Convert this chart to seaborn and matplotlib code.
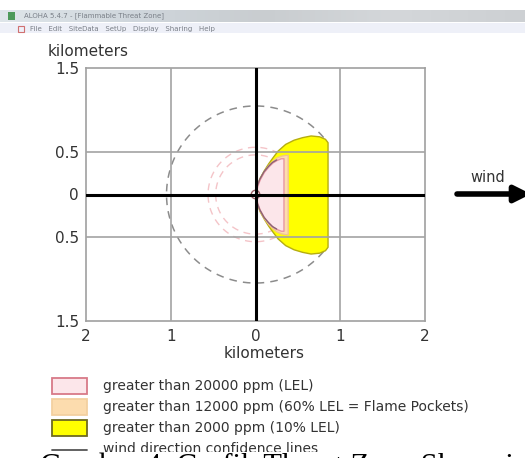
import numpy as np
import pandas as pd
import matplotlib
matplotlib.use("Agg")
import matplotlib.pyplot as plt
from matplotlib.patches import Rectangle
import seaborn as sns

# Threat zone footprints: downwind distance (km) and crosswind half-width (km)
lel_x = [0.00, 0.02, 0.05, 0.10, 0.15, 0.20, 0.25, 0.30, 0.33]
lel_w = [0.00, 0.10, 0.18, 0.27, 0.33, 0.38, 0.41, 0.43, 0.43]

pocket_x = [0.00, 0.02, 0.05, 0.10, 0.15, 0.20, 0.25, 0.30, 0.35, 0.38]
pocket_w = [0.00, 0.11, 0.19, 0.28, 0.35, 0.40, 0.44, 0.46, 0.47, 0.47]

tenlel_x = [0.00, 0.02, 0.05, 0.10, 0.15, 0.20, 0.26, 0.35, 0.45, 0.55, 0.65, 0.75, 0.82, 0.85]
tenlel_w = [0.00, 0.12, 0.20, 0.29, 0.37, 0.44, 0.52, 0.60, 0.65, 0.68, 0.70, 0.69, 0.66, 0.62]

# Wind direction confidence arc and inner zone confidence rings (km)
confidence_radius = 1.05
confidence_span_deg = (40, 320)
inner_ring_radii = [0.47, 0.56]
source_radius = 0.05

# Axis ticks
x_ticks = [-2, -1, 0, 1, 2]
x_tick_labels = ["2", "1", "0", "1", "2"]
y_ticks = [1.5, 0.5, 0, -0.5, -1.5]
y_tick_labels = ["1.5", "0.5", "0", "0.5", "1.5"]
grid_x = [-1, 1]
grid_y = [-0.5, 0.5]

legend_labels = [
    "greater than 20000 ppm (LEL)",
    "greater than 12000 ppm (60% LEL = Flame Pockets)",
    "greater than 2000 ppm (10% LEL)",
    "wind direction confidence lines",
]
window_title = "ALOHA 5.4.7 - [Flammable Threat Zone]"
menu_items = ["File", "Edit", "SiteData", "SetUp", "Display", "Sharing", "Help"]
caption = "Gambar 4. Grafik Threat Zone Skenario"

sns.set_theme(style="white")
plt.rcParams["font.family"] = ["DejaVu Sans"]

W, H = 525, 458
fig = plt.figure(figsize=(W / 100, H / 100), dpi=100)
fig.patch.set_facecolor("white")


def fx(px):
    return px / W


def fy(py):
    return 1 - py / H


# ---- window chrome -------------------------------------------------------
grad = np.linspace(0, 1, 256).reshape(1, -1)
bar_ax = fig.add_axes([0, fy(22), 1, (22 - 10) / H])
bar_ax.imshow(grad, aspect="auto", cmap=matplotlib.colors.LinearSegmentedColormap.from_list(
    "bar", ["#dfe6ea", "#cfd6dc", "#c9cdd0", "#d4d7da", "#cdd0d3"]), extent=[0, 1, 0, 1])
bar_ax.set_axis_off()
fig.patches.append(Rectangle((0, fy(33)), 1, (33 - 23) / H, transform=fig.transFigure,
                             facecolor="#eef0f8", edgecolor="none", zorder=0))
fig.patches.append(Rectangle((fx(8), fy(20)), fx(7), 8 / H, transform=fig.transFigure,
                             facecolor="#4d9a5a", edgecolor="none", zorder=3))
fig.text(fx(24), fy(16), window_title, fontsize=5, color="#7a8088", va="center")
fig.text(fx(30), fy(28.5), "   ".join(menu_items), fontsize=5, color="#7a7f88", va="center")
fig.patches.append(Rectangle((fx(18), fy(32)), fx(6), 6 / H, transform=fig.transFigure,
                             facecolor="none", edgecolor="#d07070", lw=0.8, zorder=3))

# ---- main plot -----------------------------------------------------------
ax = fig.add_axes([fx(86), fy(321), fx(425 - 86), (321 - 68) / H])
ax.set_xlim(-2, 2)
ax.set_ylim(-1.5, 1.5)
ax.set_facecolor("white")

# confidence lines drawn underneath the zones
theta = np.deg2rad(np.linspace(confidence_span_deg[0], confidence_span_deg[1], 300))
arc = pd.DataFrame({"x": confidence_radius * np.cos(theta),
                    "y": confidence_radius * np.sin(theta)})
sns.lineplot(data=arc, x="x", y="y", sort=False, estimator=None, ax=ax,
             color="#8c8c8c", lw=1.1, linestyle=(0, (5, 4)), zorder=2)

full = np.linspace(0, 2 * np.pi, 300)
for r in inner_ring_radii:
    ring = pd.DataFrame({"x": r * np.cos(full), "y": r * np.sin(full)})
    sns.lineplot(data=ring, x="x", y="y", sort=False, estimator=None, ax=ax,
                 color="#f4c4c8", lw=1.0, linestyle=(0, (5, 4)), zorder=2)

# threat zones, largest first
zones = [
    (tenlel_x, tenlel_w, "#ffff00", "#b5ad10"),
    (pocket_x, pocket_w, "#fcdcae", "#f2c48e"),
    (lel_x, lel_w, "#fce6ea", "#e896a2"),
]
for zx, zw, fc, ec in zones:
    zx = np.asarray(zx)
    zw = np.asarray(zw)
    ax.fill_between(zx, -zw, zw, facecolor=fc, edgecolor=ec, lw=1.0, zorder=3)

# upwind edge of the LEL zone
edge = pd.DataFrame({"x": np.r_[lel_x[::-1][:-1], lel_x],
                     "y": np.r_[np.asarray(lel_w[::-1][:-1]), -np.asarray(lel_w)]})
edge = edge[edge["x"] <= 0.28]
sns.lineplot(data=edge, x="x", y="y", sort=False, estimator=None, ax=ax,
             color="#8a6474", lw=1.0, zorder=4)

# release point
src = pd.DataFrame({"x": source_radius * np.cos(full), "y": source_radius * np.sin(full)})
sns.lineplot(data=src, x="x", y="y", sort=False, estimator=None, ax=ax,
             color="#a06068", lw=1.0, zorder=4)

# grid and zero lines
for gx in grid_x:
    ax.axvline(gx, color="#a3a3a3", lw=1.2, zorder=5)
for gy in grid_y:
    ax.axhline(gy, color="#a3a3a3", lw=1.2, zorder=5)
ax.axhline(0, color="black", lw=2.2, zorder=6)
ax.axvline(0, color="black", lw=2.2, zorder=6)

for s in ax.spines.values():
    s.set_color("#a0a0a0")
    s.set_linewidth(1.2)
ax.set_xticks(x_ticks)
ax.set_xticklabels(x_tick_labels)
ax.set_yticks(y_ticks)
ax.set_yticklabels(y_tick_labels)
ax.tick_params(length=0, labelsize=11, colors="#333333")
ax.tick_params(axis="x", pad=6)
ax.tick_params(axis="y", pad=5)
ax.set_xlabel("")
ax.set_ylabel("")

fig.text(fx(48), fy(51), "kilometers", fontsize=11, color="#333333", va="center")
fig.text(fx(264), fy(353), "kilometers", fontsize=11, color="#333333",
         va="center", ha="center")

# wind arrow
fig.text(fx(488), fy(177), "wind", fontsize=10.5, color="#333333", va="center", ha="center")
ax.annotate("", xy=(531, H - 194), xytext=(457, H - 194), xycoords="figure pixels",
            arrowprops=dict(arrowstyle="-|>", lw=4, color="black", mutation_scale=24,
                            shrinkA=0, shrinkB=0),
            annotation_clip=False)

# ---- legend ---------------------------------------------------------------
rows = [386, 407, 428, 449]
swatches = [("#fce6ea", "#d87a88"), ("#fcdcae", "#f3d0a0"), ("#ffff00", "#6e6a20")]
for (fc, ec), yc in zip(swatches, rows[:3]):
    fig.patches.append(Rectangle((fx(52), fy(yc + 8)), fx(35), 16 / H,
                                 transform=fig.transFigure, facecolor=fc,
                                 edgecolor=ec, lw=1.3))
fig.lines.append(plt.Line2D([fx(52), fx(87)], [fy(rows[3] + 1), fy(rows[3] + 1)],
                            transform=fig.transFigure, color="#555555", lw=1.3))
for lab, yc in zip(legend_labels, rows):
    fig.text(fx(103), fy(yc), lab, fontsize=10, color="#333333", va="center")

# figure caption below the screenshot
fig.patches.append(Rectangle((0, 0), 1, fy(452), transform=fig.transFigure,
                             facecolor="white", edgecolor="none", zorder=8))
fig.text(fx(40), fy(475), caption, fontsize=22, color="black", va="baseline",
         family=["Liberation Serif"], zorder=9)

fig.savefig("out.png", dpi=100)
